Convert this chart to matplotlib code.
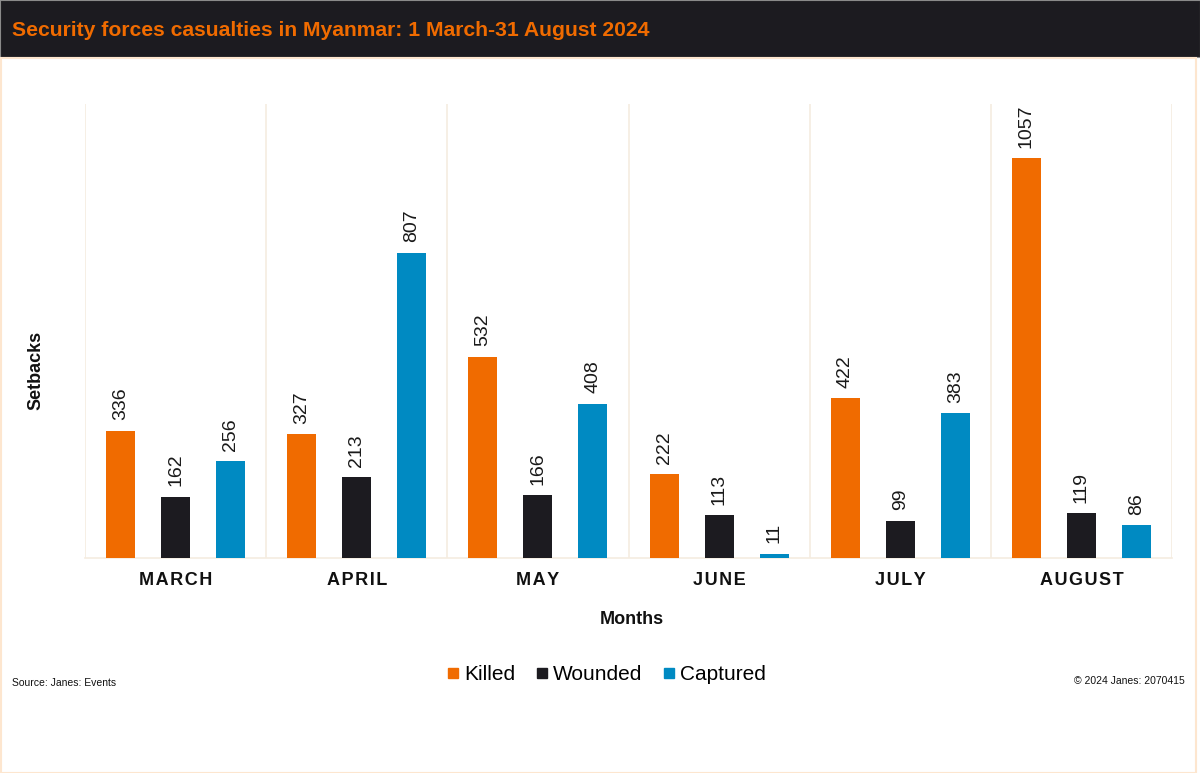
"""
Security forces casualties in Myanmar, March-August 2024
"""

import matplotlib
matplotlib.use('Agg')

import matplotlib.pyplot as plt
import numpy as np
from matplotlib.patches import Rectangle
from matplotlib.lines import Line2D

plt.rcParams['font.family'] = ['Liberation Sans', 'DejaVu Sans']

MONTHS = ["MARCH", "APRIL", "MAY", "JUNE", "JULY", "AUGUST"]
KILLED = [336, 327, 532, 222, 422, 1057]
WOUNDED = [162, 213, 166, 113, 99, 119]
CAPTURED = [256, 807, 408, 11, 383, 86]

SERIES = ["Killed", "Wounded", "Captured"]
COLORS = ["#f06b00", "#1c1b20", "#008ac2"]

GRID = "#f5ece0"
BORDER = "#fde6cf"

fig = plt.figure(figsize=(12, 7.73), dpi=100)
W, H = 1200.0, 773.0

# dark title band
fig.patches.append(Rectangle((0, 1 - 57 / H), 1, 57 / H, transform=fig.transFigure,
                             facecolor="#1c1b20", edgecolor="#8a8a8a", lw=0.8, zorder=0))
fig.patches.append(Rectangle((0.5 / W, 0.5 / H), 1 - 5 / W, 1 - 57 / H - 1 / H,
                             transform=fig.transFigure, facecolor="none",
                             edgecolor=BORDER, lw=1.5, zorder=0))
fig.text(12 / W, 1 - 31 / H, "Security forces casualties in Myanmar: 1 March-31 August 2024",
         color="#f06b00", fontsize=15.2, fontweight="bold", va="center", ha="left")

ax = fig.add_axes([85 / W, 1 - 558 / H, (1172 - 85) / W, (558 - 104) / H])

x = np.arange(len(MONTHS))
width = 0.16
offsets = [-0.304, 0.0, 0.304]

for vals, off, col, name in zip([KILLED, WOUNDED, CAPTURED], offsets, COLORS, SERIES):
    bars = ax.bar(x + off, vals, width, color=col, label=name, zorder=3)
    for rect, v in zip(bars, vals):
        ax.annotate(str(v), (rect.get_x() + rect.get_width() / 2, rect.get_height()),
                    xytext=(0, 7.5), textcoords="offset points", rotation=90,
                    ha="center", va="bottom", fontsize=14, color="#1a1a1a")

ax.set_xlim(-0.5, len(MONTHS) - 0.5)
ax.set_ylim(0, 1200)

for b in np.arange(-0.5, len(MONTHS), 1.0):
    ax.axvline(b, color=GRID, lw=1.2, zorder=1)

for s in ["top", "right", "left"]:
    ax.spines[s].set_visible(False)
ax.spines["bottom"].set_color(GRID)
ax.spines["bottom"].set_linewidth(1.2)

ax.set_yticks([])
ax.set_xticks(x)
ax.set_xticklabels(["\u200a".join(m) for m in MONTHS], fontsize=13, fontweight="bold",
                   color="#111111")
ax.tick_params(axis="x", length=0, pad=10)

fig.text(632 / W, 1 - 619 / H, "Months", fontsize=13, fontweight="bold",
         ha="center", va="center", color="#111111")
fig.text(36 / W, 1 - 370 / H, "Setbacks", fontsize=13, fontweight="bold",
         rotation=90, ha="center", va="center", color="#111111")

handles = [Line2D([], [], marker="s", linestyle="none", markersize=7.5,
                  markerfacecolor=c, markeredgecolor=c) for c in COLORS]
fig.legend(handles, SERIES, loc="center", bbox_to_anchor=(606 / W, 1 - 675 / H),
           ncol=3, frameon=False, fontsize=15, handletextpad=0.2,
           columnspacing=0.9, handlelength=0.7)

fig.text(12 / W, 1 - 683 / H, "Source: Janes: Events", fontsize=7.5,
         ha="left", va="center", color="#111111")
fig.text(1185 / W, 1 - 681 / H, "\u00a9 2024 Janes: 2070415", fontsize=7.5,
         ha="right", va="center", color="#111111")

fig.savefig("out.png", dpi=100, facecolor="white")
